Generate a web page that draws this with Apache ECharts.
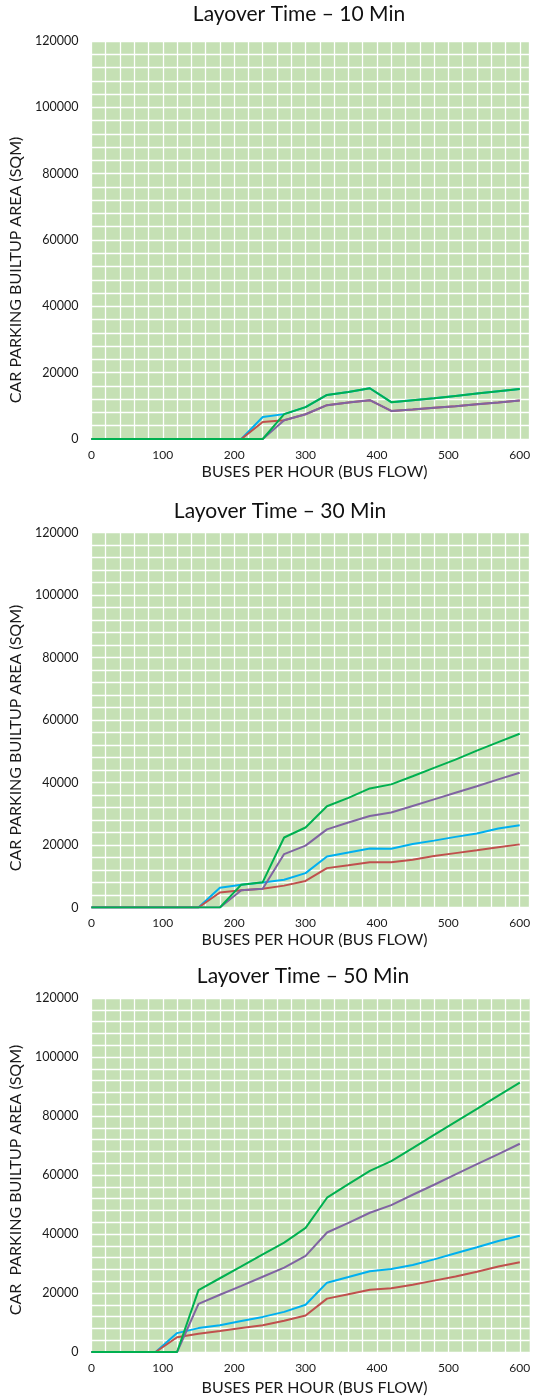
<!DOCTYPE html>
<html>
<head>
<meta charset="utf-8">
<script src="https://cdn.jsdelivr.net/npm/echarts@6/dist/echarts.min.js"></script>
<style>
html,body{margin:0;padding:0;background:#fff;}
#c{width:533px;height:1399px;}
</style>
</head>
<body>
<div id="c"></div>
<script>
// ---- data ----
const busesPerHour = [0,30,60,90,120,150,180,210,240,270,300,330,360,390,420,450,480,510,540,570,600];
const xTickLabels = [0,100,200,300,400,500,600];
const yTickLabels = [0,20000,40000,60000,80000,100000,120000];
const panelTitles = ['Layover Time \u2013 10 Min','Layover Time \u2013 30 Min','Layover Time \u2013 50 Min'];
const xAxisNames = ['BUSES PER HOUR (BUS FLOW)','BUSES PER HOUR (BUS FLOW)','BUSES PER HOUR (BUS FLOW)'];
const yAxisNames = ['CAR PARKING BUILTUP AREA (SQM)','CAR PARKING BUILTUP AREA (SQM)','CAR  PARKING BUILTUP AREA (SQM)'];

// Layover 10 min
const blue10   = [0,0,0,0,0,0,0,0,6650,7500,9600,13300,14200,15300,11100,11700,12300,13000,13700,14400,15100];
const red10    = [0,0,0,0,0,0,0,0,5150,5650,7450,10200,11000,11700,8450,8900,9400,9900,10500,11000,11600];
const purple10 = [0,0,0,0,0,0,0,0,0,5650,7450,10200,11000,11700,8450,8900,9400,9900,10500,11000,11600];
const green10  = [0,0,0,0,0,0,0,0,0,7500,9600,13300,14200,15300,11100,11700,12300,13000,13700,14400,15100];

// Layover 30 min
const blue30   = [0,0,0,0,0,0,6350,7300,8000,8900,11000,16300,17600,18900,18800,20300,21400,22600,23700,25300,26300];
const red30    = [0,0,0,0,0,0,4800,5500,6000,7000,8500,12600,13500,14500,14500,15300,16500,17400,18300,19300,20200];
const purple30 = [0,0,0,0,0,0,0,5500,6000,17100,19800,25000,27200,29300,30400,32500,34600,36700,38800,41000,43100];
const green30  = [0,0,0,0,0,0,0,7300,8100,22400,25600,32400,35100,38100,39400,42000,44700,47300,50200,52900,55600];

// Layover 50 min
const blue50   = [0,0,0,0,6400,8100,9100,10500,11900,13600,16000,23500,25400,27400,28100,29500,31400,33500,35500,37600,39400];
const red50    = [0,0,0,0,5000,6200,7100,8100,9100,10600,12400,18100,19600,21100,21600,22800,24200,25600,27200,29000,30400];
const purple50 = [0,0,0,0,0,16300,19400,22400,25500,28600,32600,40500,43800,47200,49800,53300,56700,60200,63700,67100,70600];
const green50  = [0,0,0,0,0,21000,25000,29000,33100,37100,42100,52300,56900,61400,64700,69100,73600,78000,82400,86900,91300];

const panels = [
  [blue10, red10, purple10, green10],
  [blue30, red30, purple30, green30],
  [blue50, red50, purple50, green50]
];
const seriesColors = ['#00B0F0','#C0504D','#8064A2','#00B050'];

// ---- layout ----
const grids = [
  {left:83,  top:41,  width:448, height:398},
  {left:85.5,top:532.5,width:445.5,height:375},
  {left:81,  top:998, width:450, height:354}
];
const titlePos = [[299,14],[280,511],[303,976]];
const xNameGap = [25,24,28];
const yNameShift = [30,18,5];
const font = 'Lato, "Open Sans", sans-serif';
const textColor = '#1a1a1a';

const xLabelSet = new Set(xTickLabels);
const yLabelSet = new Set(yTickLabels);

const option = {
  animation:false,
  backgroundColor:'#ffffff',
  grid: grids.map(g => Object.assign({show:true, backgroundColor:'#C5E0B4', borderWidth:0, containLabel:false}, g)),
  xAxis: grids.map((g,i) => ({
    gridIndex:i, type:'value', min:0, max:614, interval:20,
    name:xAxisNames[i], nameLocation:'middle', nameGap:xNameGap[i],
    nameTextStyle:{fontFamily:font, fontSize:16, color:textColor, padding:[0,0,0,8]},
    axisLine:{show:false}, axisTick:{show:false},
    axisLabel:{fontFamily:font, fontSize:12, color:textColor, margin:10, showMaxLabel:false,
      formatter: v => xLabelSet.has(v) ? String(v) : ''},
    splitLine:{show:true, lineStyle:{color:'#ffffff', width:1.3}}
  })),
  yAxis: grids.map((g,i) => ({
    gridIndex:i, type:'value', min:0, max:120000, interval:4000,
    name:yAxisNames[i], nameLocation:'middle', nameGap:56,
    nameTextStyle:{fontFamily:font, fontSize:16, color:textColor, padding:[0, yNameShift[i]*2, 0, 0]},
    axisLine:{show:false}, axisTick:{show:false},
    axisLabel:{fontFamily:font, fontSize:12.5, color:textColor, margin:13,
      formatter: v => yLabelSet.has(v) ? String(v) : ''},
    splitLine:{show:true, lineStyle:{color:'#ffffff', width:1.3}}
  })),
  graphic: titlePos.map((p,i) => ({
    type:'text', x:p[0], y:p[1],
    style:{text:panelTitles[i], fill:'#111', font:'21px ' + font, textAlign:'center', textVerticalAlign:'middle'}
  })),
  series: []
};

panels.forEach((vals, pi) => {
  vals.forEach((arr, si) => {
    option.series.push({
      type:'line', xAxisIndex:pi, yAxisIndex:pi,
      data: busesPerHour.map((x,k) => [x, arr[k]]),
      showSymbol:false, symbol:'none',
      lineStyle:{color:seriesColors[si], width:2},
      itemStyle:{color:seriesColors[si]},
      z: 2 + si
    });
  });
});

const chart = echarts.init(document.getElementById('c'), null, {renderer:'canvas'});
chart.setOption(option);
</script>
</body>
</html>
